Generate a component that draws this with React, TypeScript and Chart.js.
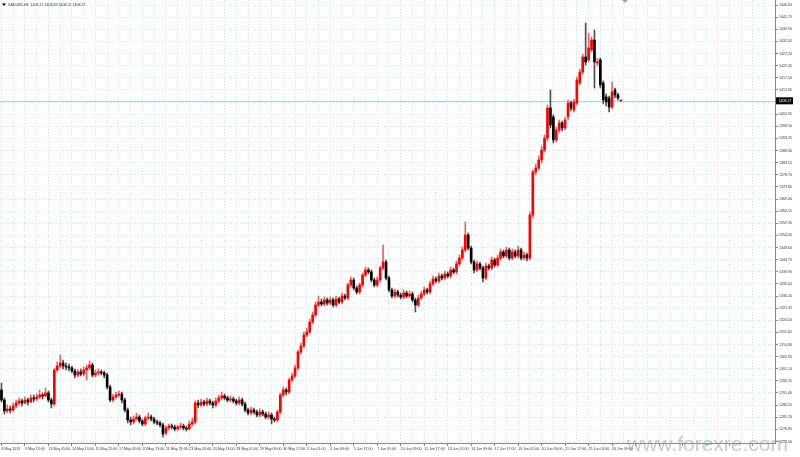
import React, { useEffect, useRef } from "react";
import { Chart, registerables } from "chart.js";

Chart.register(...registerables);

const chartTitle = "XAUUSD,H4  1408.17 1408.69 1408.01 1408.27";
const watermark = "www.forexre.com";
const lastPrice = 1408.27;
const yMax = 1448.6;
const yMin = 1271.4;
const totalSlots = 264;

const timeLabels = [
  "8 May 2019", "9 May 13:00", "13 May 05:00", "14 May 13:00", "15 May 21:00", "17 May 05:00",
  "20 May 13:00", "21 May 21:00", "23 May 05:00", "24 May 13:00", "28 May 01:00", "29 May 09:00",
  "30 May 17:00", "3 Jun 01:00", "4 Jun 09:00", "5 Jun 17:00", "7 Jun 01:00", "10 Jun 09:00",
  "11 Jun 17:00", "13 Jun 01:00", "14 Jun 09:00", "17 Jun 17:00", "19 Jun 01:00", "20 Jun 09:00",
  "21 Jun 17:00", "25 Jun 01:00", "26 Jun 09:00",
];

const priceTicks = [
  1446.6, 1441.75, 1436.9, 1432.05, 1427.2, 1422.35, 1417.5, 1412.65, 1407.8, 1402.95,
  1398.1, 1393.25, 1388.4, 1383.55, 1378.7, 1373.85, 1369.0, 1364.15, 1359.3, 1354.45,
  1349.6, 1344.75, 1339.9, 1335.05, 1330.2, 1325.35, 1320.5, 1315.65, 1310.8, 1305.95,
  1301.1, 1296.25, 1291.4, 1286.55, 1281.7, 1276.85, 1272.0,
];

const opens = [
  1292.6, 1288.6, 1284.2, 1285.0, 1284.6, 1286.2, 1287.4, 1288.2, 1287.4, 1288.6,
  1287.8, 1289.4, 1289.0, 1289.8, 1290.6, 1290.2, 1291.4, 1288.6, 1287.0, 1300.6,
  1302.2, 1303.4, 1302.2, 1301.8, 1301.4, 1300.2, 1298.6, 1299.8, 1299.0, 1300.6,
  1301.4, 1302.6, 1298.6, 1299.4, 1299.8, 1299.4, 1298.6, 1293.8, 1288.6, 1289.8,
  1290.6, 1291.0, 1288.6, 1284.6, 1280.6, 1279.8, 1281.0, 1281.8, 1280.2, 1279.0,
  1281.4, 1281.8, 1281.0, 1279.8, 1279.4, 1278.6, 1275.4, 1277.4, 1278.2, 1277.8,
  1277.0, 1277.8, 1278.2, 1277.4, 1277.0, 1279.0, 1279.8, 1287.4, 1286.6, 1287.8,
  1287.0, 1288.2, 1287.4, 1286.6, 1288.2, 1289.4, 1290.2, 1289.4, 1288.6, 1289.0,
  1288.2, 1287.4, 1288.6, 1287.0, 1284.6, 1283.4, 1284.6, 1283.8, 1282.6, 1283.8,
  1283.0, 1281.8, 1282.6, 1281.0, 1280.6, 1283.8, 1290.6, 1292.6, 1291.8, 1296.6,
  1298.2, 1301.4, 1307.8, 1310.2, 1314.6, 1315.8, 1319.8, 1322.6, 1326.6, 1327.8,
  1327.0, 1328.6, 1327.4, 1328.6, 1326.6, 1329.0, 1327.8, 1330.2, 1329.4, 1334.6,
  1336.6, 1333.4, 1331.8, 1334.6, 1338.6, 1340.6, 1339.8, 1336.6, 1334.6, 1336.6,
  1341.4, 1343.8, 1337.4, 1332.6, 1330.2, 1331.8, 1330.6, 1329.8, 1331.4, 1330.2,
  1331.0, 1328.6, 1326.6, 1329.4, 1331.0, 1332.6, 1331.8, 1335.0, 1337.0, 1336.2,
  1338.2, 1337.4, 1339.0, 1338.2, 1340.6, 1339.8, 1343.0, 1345.4, 1348.6, 1354.6,
  1349.4, 1343.8, 1340.6, 1343.0, 1341.4, 1337.4, 1342.2, 1341.4, 1344.6, 1342.6,
  1345.4, 1347.8, 1346.2, 1348.6, 1345.4, 1347.8, 1346.2, 1348.6, 1345.4, 1346.6,
  1345.4, 1362.6, 1379.8, 1381.4, 1384.6, 1388.6, 1393.4, 1405.4, 1401.8, 1392.6,
  1396.6, 1399.4, 1397.4, 1401.8, 1407.4, 1404.6, 1407.4, 1415.4, 1419.8, 1425.8,
  1424.6, 1428.6, 1432.6, 1423.4, 1424.6, 1415.4, 1409.8, 1409.4, 1405.8, 1412.6,
  1410.6, 1408.17,
];

const highs = [
  1295.4, 1289.4, 1286.6, 1286.2, 1287.4, 1288.6, 1289.4, 1289.0, 1289.8, 1289.4,
  1290.6, 1290.6, 1291.0, 1292.6, 1291.4, 1293.4, 1292.2, 1289.4, 1301.4, 1303.8,
  1306.6, 1304.6, 1303.4, 1303.0, 1302.2, 1301.0, 1300.6, 1301.0, 1301.8, 1302.6,
  1304.2, 1303.4, 1300.6, 1301.0, 1300.6, 1300.2, 1299.4, 1294.6, 1291.0, 1291.8,
  1292.2, 1291.8, 1289.4, 1285.4, 1281.8, 1282.2, 1283.4, 1282.6, 1281.0, 1282.2,
  1283.4, 1282.6, 1281.8, 1280.6, 1280.2, 1279.4, 1278.2, 1279.0, 1279.0, 1278.6,
  1278.6, 1279.4, 1279.0, 1278.2, 1280.2, 1281.4, 1288.2, 1288.6, 1289.0, 1288.6,
  1289.4, 1289.0, 1288.2, 1289.4, 1290.6, 1291.8, 1291.0, 1290.2, 1290.2, 1289.8,
  1289.0, 1289.8, 1289.4, 1287.8, 1285.4, 1285.8, 1285.4, 1284.6, 1285.0, 1284.6,
  1283.8, 1283.8, 1283.4, 1281.8, 1284.6, 1291.4, 1293.8, 1293.4, 1297.4, 1299.4,
  1302.6, 1308.6, 1311.4, 1315.8, 1317.4, 1321.0, 1323.8, 1327.8, 1330.2, 1329.0,
  1329.8, 1329.4, 1329.8, 1329.4, 1330.2, 1329.8, 1331.4, 1331.0, 1335.4, 1337.8,
  1337.4, 1334.2, 1335.4, 1339.4, 1341.8, 1341.4, 1340.6, 1337.4, 1337.8, 1342.2,
  1350.6, 1344.6, 1338.2, 1333.4, 1333.0, 1332.6, 1331.4, 1332.6, 1332.2, 1332.2,
  1331.8, 1329.4, 1330.6, 1332.2, 1333.8, 1333.4, 1336.2, 1338.2, 1337.8, 1339.4,
  1339.0, 1340.2, 1339.8, 1341.8, 1341.4, 1344.2, 1346.6, 1349.8, 1359.8, 1355.4,
  1350.2, 1344.6, 1344.2, 1343.8, 1342.2, 1343.4, 1343.0, 1345.8, 1345.4, 1346.6,
  1349.0, 1348.6, 1349.8, 1349.4, 1349.0, 1348.6, 1350.2, 1349.4, 1347.8, 1347.4,
  1363.8, 1380.6, 1383.0, 1386.2, 1390.2, 1394.6, 1406.6, 1412.6, 1402.6, 1397.8,
  1400.6, 1400.2, 1401.8, 1408.6, 1408.2, 1409.0, 1417.8, 1421.0, 1427.0, 1439.4,
  1435.4, 1433.8, 1436.6, 1425.4, 1425.4, 1416.2, 1411.0, 1410.2, 1415.8, 1413.4,
  1411.4, 1408.69,
];

const lows = [
  1287.8, 1283.0, 1283.4, 1283.4, 1283.8, 1285.4, 1286.6, 1286.2, 1287.0, 1286.6,
  1287.4, 1287.8, 1288.2, 1289.0, 1289.0, 1289.8, 1287.8, 1285.4, 1286.2, 1299.8,
  1301.4, 1301.0, 1300.6, 1300.2, 1299.4, 1297.4, 1297.8, 1298.2, 1298.2, 1296.6,
  1300.6, 1297.8, 1297.8, 1298.6, 1298.6, 1297.4, 1293.0, 1287.8, 1287.8, 1289.0,
  1289.8, 1287.4, 1283.8, 1279.4, 1278.6, 1279.0, 1280.6, 1279.4, 1278.2, 1278.2,
  1280.6, 1280.2, 1279.0, 1278.6, 1277.8, 1273.8, 1274.6, 1276.6, 1277.0, 1276.2,
  1276.2, 1277.0, 1276.6, 1276.2, 1276.6, 1278.2, 1279.0, 1285.4, 1285.8, 1286.2,
  1286.2, 1286.6, 1285.4, 1285.8, 1287.4, 1288.6, 1288.6, 1287.8, 1287.8, 1287.4,
  1286.6, 1286.6, 1286.2, 1283.8, 1282.6, 1282.6, 1283.0, 1281.8, 1281.8, 1282.2,
  1281.0, 1281.0, 1279.0, 1279.8, 1279.8, 1283.0, 1289.8, 1290.6, 1291.0, 1295.8,
  1297.4, 1300.6, 1307.0, 1309.4, 1313.8, 1315.0, 1319.0, 1321.8, 1325.8, 1326.2,
  1326.2, 1326.6, 1326.6, 1325.8, 1325.8, 1327.0, 1327.0, 1328.6, 1328.6, 1333.8,
  1332.6, 1331.0, 1331.0, 1333.8, 1337.8, 1339.0, 1335.8, 1333.8, 1333.8, 1335.8,
  1340.6, 1336.6, 1331.8, 1329.4, 1329.4, 1329.8, 1329.0, 1329.0, 1329.4, 1329.4,
  1327.8, 1323.8, 1325.8, 1328.6, 1330.2, 1331.0, 1331.0, 1334.2, 1335.4, 1335.4,
  1336.6, 1336.6, 1337.4, 1337.4, 1339.0, 1339.0, 1342.2, 1344.6, 1347.8, 1348.6,
  1343.0, 1339.4, 1339.8, 1340.6, 1335.8, 1336.6, 1340.6, 1340.6, 1341.8, 1341.8,
  1344.6, 1345.4, 1345.4, 1344.6, 1344.6, 1345.4, 1345.4, 1344.6, 1344.6, 1344.2,
  1344.6, 1361.4, 1378.6, 1380.6, 1383.4, 1387.8, 1392.2, 1397.4, 1391.4, 1391.8,
  1395.4, 1396.2, 1396.6, 1400.6, 1404.2, 1403.8, 1406.6, 1414.6, 1419.0, 1422.6,
  1423.8, 1427.8, 1413.4, 1422.2, 1413.4, 1407.0, 1406.2, 1403.8, 1405.0, 1409.4,
  1408.6, 1408.01,
];

const closes = [
  1288.6, 1284.2, 1285.0, 1284.6, 1286.2, 1287.4, 1288.2, 1287.4, 1288.6, 1287.8,
  1289.4, 1289.0, 1289.8, 1290.6, 1290.2, 1291.4, 1288.6, 1287.0, 1300.6, 1302.2,
  1303.4, 1302.2, 1301.8, 1301.4, 1300.2, 1298.6, 1299.8, 1299.0, 1300.6, 1301.4,
  1302.6, 1298.6, 1299.4, 1299.8, 1299.4, 1298.6, 1293.8, 1288.6, 1289.8, 1290.6,
  1291.0, 1288.6, 1284.6, 1280.6, 1279.8, 1281.0, 1281.8, 1280.2, 1279.0, 1281.4,
  1281.8, 1281.0, 1279.8, 1279.4, 1278.6, 1275.0, 1277.4, 1278.2, 1277.8, 1277.0,
  1277.8, 1278.2, 1277.4, 1277.0, 1279.0, 1279.8, 1287.4, 1286.6, 1287.8, 1287.0,
  1288.2, 1287.4, 1286.6, 1288.2, 1289.4, 1290.2, 1289.4, 1288.6, 1289.0, 1288.2,
  1287.4, 1288.6, 1287.0, 1284.6, 1283.4, 1284.6, 1283.8, 1282.6, 1283.8, 1283.0,
  1281.8, 1282.6, 1281.0, 1280.6, 1283.8, 1290.6, 1292.6, 1291.8, 1296.6, 1298.2,
  1301.4, 1307.8, 1310.2, 1314.6, 1315.8, 1319.8, 1322.6, 1326.6, 1327.8, 1327.0,
  1328.6, 1327.4, 1328.6, 1326.6, 1329.0, 1327.8, 1330.2, 1329.4, 1334.6, 1336.6,
  1333.4, 1331.8, 1334.6, 1338.6, 1340.6, 1339.8, 1336.6, 1334.6, 1336.6, 1341.4,
  1343.8, 1337.4, 1332.6, 1330.2, 1331.8, 1330.6, 1329.8, 1331.4, 1330.2, 1331.0,
  1328.6, 1326.6, 1329.4, 1331.0, 1332.6, 1331.8, 1335.0, 1337.0, 1336.2, 1338.2,
  1337.4, 1339.0, 1338.2, 1340.6, 1339.8, 1343.0, 1345.4, 1348.6, 1354.6, 1349.4,
  1343.8, 1340.6, 1343.0, 1341.4, 1337.4, 1342.2, 1341.4, 1344.6, 1342.6, 1345.4,
  1347.8, 1346.2, 1348.6, 1345.4, 1347.8, 1346.2, 1348.6, 1345.4, 1346.6, 1345.4,
  1362.6, 1379.8, 1381.4, 1384.6, 1388.6, 1393.4, 1405.4, 1398.6, 1392.6, 1396.6,
  1399.4, 1397.4, 1400.6, 1407.4, 1405.4, 1407.8, 1416.6, 1419.8, 1425.8, 1423.8,
  1429.4, 1432.6, 1423.8, 1423.8, 1414.6, 1408.6, 1407.8, 1405.8, 1411.8, 1410.6,
  1409.4, 1408.27,
];

const BULL = "#ff0000";
const BEAR = "#000000";
const BULL_WICK = "#f06060";
const BEAR_WICK = "#505050";
const GRID = "#c2e4f6";
const FONT = "'Liberation Sans', Arial, sans-serif";

export default function App() {
  const canvasRef = useRef<HTMLCanvasElement | null>(null);

  useEffect(() => {
    const canvas = canvasRef.current;
    if (!canvas) return;
    const slotLabels = Array.from({ length: totalSlots }, (_, i) => String(i));
    const isBull = opens.map((o, i) => closes[i] >= o);
    const bodyColors = isBull.map((b) => (b ? BULL : BEAR));
    const wickColors = isBull.map((b) => (b ? BULL_WICK : BEAR_WICK));

    const overlay = {
      id: "mt4Overlay",
      beforeDatasetsDraw(chart: any) {
        const { ctx, chartArea } = chart;
        const y = Math.round(chart.scales.y.getPixelForValue(lastPrice)) + 0.5;
        ctx.save();
        ctx.strokeStyle = "#a8d6f0";
        ctx.lineWidth = 1;
        ctx.beginPath();
        ctx.moveTo(chartArea.left, y);
        ctx.lineTo(chartArea.right, y);
        ctx.stroke();
        ctx.restore();
      },
      afterDraw(chart: any) {
        const { ctx, chartArea } = chart;
        ctx.save();
        ctx.fillStyle = "#000";
        ctx.beginPath();
        ctx.moveTo(2, 3.5);
        ctx.lineTo(6, 3.5);
        ctx.lineTo(4, 6);
        ctx.closePath();
        ctx.fill();
        ctx.fillStyle = "#333";
        ctx.font = `3.6px ${FONT}`;
        ctx.textBaseline = "middle";
        ctx.textAlign = "left";
        ctx.fillText(chartTitle, 8, 5);
        ctx.fillStyle = "#a0a0a0";
        ctx.beginPath();
        ctx.moveTo(622, 0);
        ctx.lineTo(628, 0);
        ctx.lineTo(625, 3);
        ctx.closePath();
        ctx.fill();
        const py = chart.scales.y.getPixelForValue(lastPrice);
        const bx = chartArea.right + 1;
        ctx.fillStyle = "#000";
        ctx.fillRect(bx, py - 3.5, 17, 7);
        ctx.fillStyle = "#fff";
        ctx.font = `3.6px ${FONT}`;
        ctx.fillText(lastPrice.toFixed(2), bx + 2.5, py);
        ctx.fillStyle = "rgba(150,150,150,0.5)";
        ctx.font = `21px ${FONT}`;
        ctx.textBaseline = "alphabetic";
        ctx.fillText(watermark, 627, 451);
        ctx.restore();
      },
    };

    const chart = new Chart(canvas, {
      type: "bar",
      data: {
        labels: slotLabels,
        datasets: [
          {
            data: opens.map((o, i) => [o, closes[i]]) as any,
            backgroundColor: bodyColors,
            barThickness: 2,
            minBarLength: 1,
            grouped: false,
          } as any,
          {
            data: lows.map((l, i) => [l, highs[i]]) as any,
            backgroundColor: wickColors,
            barThickness: 1,
            grouped: false,
          } as any,
        ],
      },
      options: {
        animation: false,
        responsive: false,
        maintainAspectRatio: false,
        layout: { padding: 0 },
        plugins: {
          legend: { display: false },
          tooltip: { enabled: false },
          title: { display: false },
        },
        scales: {
          x: {
            type: "category",
            offset: true,
            grid: {
              offset: false,
              color: (c: any) => (c.index % 4 === 0 ? GRID : "transparent"),
              tickColor: (c: any) => (c.index % 8 === 0 ? "#888" : "transparent"),
              tickLength: 3,
              lineWidth: 1,
            },
            border: { color: "#888", dash: [1, 2] },
            ticks: {
              autoSkip: false,
              maxRotation: 0,
              minRotation: 0,
              align: "start",
              padding: 1,
              color: "#333",
              font: { family: FONT, size: 3.6 },
              callback: (_v: any, i: number) =>
                i % 8 === 0 && timeLabels[i / 8] !== undefined ? timeLabels[i / 8] : "",
            },
            afterFit: (s: any) => {
              s.height = 14;
              s.paddingLeft = 0;
              s.paddingRight = 0;
            },
          } as any,
          y: {
            position: "right",
            min: yMin,
            max: yMax,
            afterBuildTicks: (s: any) => {
              s.ticks = priceTicks.map((v) => ({ value: v }));
            },
            grid: {
              color: GRID,
              tickColor: "#888",
              tickLength: 3,
              lineWidth: 1,
            },
            border: { color: "#888", dash: [1, 2] },
            ticks: {
              padding: 1,
              color: "#333",
              font: { family: FONT, size: 3.6 },
              callback: (v: any) => Number(v).toFixed(2),
            },
            afterFit: (s: any) => {
              s.width = 25;
              s.paddingTop = 0;
              s.paddingBottom = 0;
            },
          } as any,
        },
      },
      plugins: [overlay],
    });

    return () => chart.destroy();
  }, []);

  return (
    <div style={{ position: "fixed", left: 0, top: 0, width: 800, height: 457, background: "#fff" }}>
      <canvas ref={canvasRef} width={800} height={457} style={{ display: "block", width: 800, height: 457 }} />
    </div>
  );
}
